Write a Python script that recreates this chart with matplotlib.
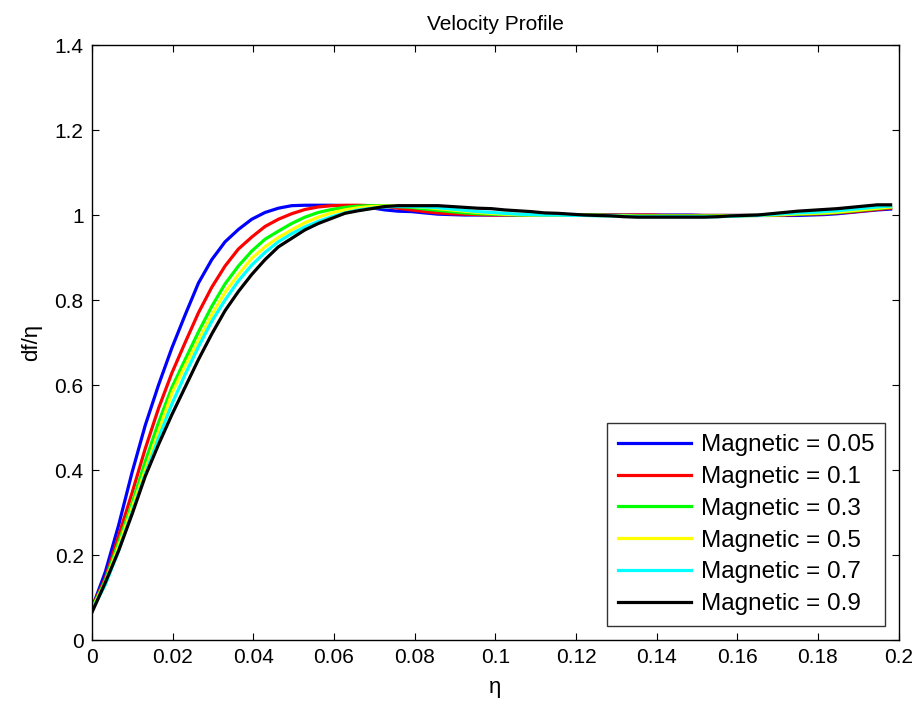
"""Velocity profile for several magnetic parameters, MATLAB look."""

import matplotlib

matplotlib.use("Agg")
import matplotlib.pyplot as plt  # noqa: E402
import numpy as np

plt.rcParams.update(
    {
        "font.family": ["Liberation Sans", "DejaVu Sans"],
        "font.size": 15,
        "axes.linewidth": 1.0,
        "xtick.direction": "in",
        "ytick.direction": "in",
        "xtick.top": True,
        "ytick.right": True,
        "xtick.major.size": 5,
        "ytick.major.size": 5,
        "xtick.major.width": 0.8,
        "ytick.major.width": 0.8,
    }
)

# eta grid, 61 samples up to 0.198
eta = np.linspace(0.0, 0.198, 61)

mag_labels = ["0.05", "0.1", "0.3", "0.5", "0.7", "0.9"]
mag_colors = ["#0000ff", "#ff0000", "#00ff00", "#ffff00", "#00ffff", "#000000"]

vel_005 = [
    0.075, 0.160, 0.270, 0.393, 0.505, 0.600, 0.687, 0.765, 0.840, 0.895,
    0.937, 0.966, 0.990, 1.006, 1.016, 1.022, 1.023, 1.023, 1.023, 1.022,
    1.021, 1.017, 1.012, 1.009, 1.008, 1.005, 1.002, 1.001, 1.000, 1.000,
    1.000, 1.000, 1.000, 1.000, 1.000, 1.000, 1.000, 1.000, 1.000, 1.000,
    1.000, 1.000, 1.000, 1.000, 1.000, 1.000, 0.999, 0.999, 0.999, 0.999,
    0.999, 0.999, 0.999, 0.999, 1.000, 1.001, 1.003, 1.006, 1.009, 1.012,
    1.014,
]
vel_01 = [
    0.077, 0.145, 0.245, 0.345, 0.450, 0.545, 0.628, 0.700, 0.770, 0.830,
    0.880, 0.920, 0.948, 0.973, 0.990, 1.003, 1.013, 1.019, 1.022, 1.023,
    1.023, 1.022, 1.020, 1.016, 1.012, 1.008, 1.005, 1.003, 1.002, 1.001,
    1.000, 1.000, 1.000, 1.000, 1.000, 1.000, 1.000, 1.000, 1.000, 1.000,
    1.000, 1.000, 1.000, 0.999, 0.999, 0.999, 0.999, 0.999, 0.999, 0.999,
    0.999, 0.999, 1.000, 1.001, 1.002, 1.003, 1.005, 1.007, 1.010, 1.013,
    1.016,
]
vel_03 = [
    0.074, 0.140, 0.230, 0.320, 0.420, 0.512, 0.594, 0.660, 0.725, 0.785,
    0.838, 0.880, 0.915, 0.943, 0.962, 0.980, 0.995, 1.006, 1.013, 1.018,
    1.021, 1.022, 1.022, 1.020, 1.018, 1.014, 1.011, 1.008, 1.005, 1.003,
    1.002, 1.001, 1.000, 1.000, 1.000, 1.000, 1.000, 1.000, 1.000, 0.999,
    0.999, 0.998, 0.998, 0.998, 0.998, 0.998, 0.998, 0.998, 0.998, 0.999,
    0.999, 1.000, 1.001, 1.002, 1.003, 1.004, 1.006, 1.009, 1.012, 1.015,
    1.018,
]
vel_05 = [
    0.072, 0.135, 0.220, 0.310, 0.400, 0.490, 0.580, 0.645, 0.705, 0.765,
    0.818, 0.860, 0.898, 0.925, 0.947, 0.965, 0.982, 0.995, 1.005, 1.012,
    1.017, 1.020, 1.021, 1.021, 1.020, 1.018, 1.015, 1.012, 1.009, 1.006,
    1.004, 1.002, 1.001, 1.000, 1.000, 1.000, 1.000, 0.999, 0.999, 0.998,
    0.998, 0.997, 0.997, 0.997, 0.997, 0.997, 0.997, 0.997, 0.998, 0.998,
    0.999, 1.000, 1.001, 1.003, 1.004, 1.005, 1.007, 1.010, 1.013, 1.016,
    1.019,
]
vel_07 = [
    0.070, 0.130, 0.210, 0.300, 0.390, 0.475, 0.555, 0.625, 0.690, 0.750,
    0.800, 0.845, 0.882, 0.912, 0.937, 0.956, 0.972, 0.985, 0.996, 1.005,
    1.012, 1.016, 1.019, 1.020, 1.020, 1.019, 1.017, 1.014, 1.011, 1.008,
    1.006, 1.004, 1.002, 1.001, 1.000, 1.000, 0.999, 0.999, 0.998, 0.998,
    0.997, 0.996, 0.996, 0.996, 0.996, 0.996, 0.996, 0.996, 0.997, 0.998,
    0.999, 1.001, 1.003, 1.005, 1.006, 1.008, 1.010, 1.013, 1.016, 1.019,
    1.021,
]
vel_09 = [
    0.065, 0.135, 0.210, 0.295, 0.385, 0.460, 0.530, 0.595, 0.660, 0.720,
    0.775, 0.820, 0.860, 0.895, 0.925, 0.945, 0.965, 0.980, 0.992, 1.004,
    1.010, 1.015, 1.020, 1.022, 1.022, 1.022, 1.022, 1.020, 1.018, 1.016,
    1.015, 1.012, 1.010, 1.008, 1.005, 1.004, 1.002, 1.000, 0.999, 0.998,
    0.996, 0.995, 0.995, 0.995, 0.995, 0.995, 0.995, 0.996, 0.998, 0.999,
    1.000, 1.003, 1.006, 1.009, 1.011, 1.013, 1.015, 1.018, 1.021, 1.024,
    1.024,
]

profiles = [vel_005, vel_01, vel_03, vel_05, vel_07, vel_09]

fig = plt.figure(figsize=(9.17, 7.09), dpi=100)
ax = fig.add_axes([0.1003, 0.0973, 0.8797, 0.8392])

for vals, lab, col in zip(profiles, mag_labels, mag_colors):
    ax.plot(eta, vals, color=col, linewidth=2.3, label=f"Magnetic = {lab}")

ax.set_xlim(0, 0.2)
ax.set_ylim(0, 1.4)
ax.set_xticks(np.arange(0, 0.2001, 0.02))
ax.set_xticklabels(["0", "0.02", "0.04", "0.06", "0.08", "0.1",
                    "0.12", "0.14", "0.16", "0.18", "0.2"])
ax.set_yticks(np.arange(0, 1.4001, 0.2))
ax.set_yticklabels(["0", "0.2", "0.4", "0.6", "0.8", "1", "1.2", "1.4"])
ax.tick_params(axis="both", pad=6)

ax.set_title("Velocity Profile", fontsize=15, pad=11)
ax.set_xlabel("η", fontsize=16, labelpad=7)
ax.set_ylabel("df/η", fontsize=16, labelpad=9)

leg = ax.legend(
    loc="lower right",
    bbox_to_anchor=(0.983, 0.0235),
    frameon=True,
    fancybox=False,
    edgecolor="black",
    handlelength=3.0,
    handletextpad=0.4,
    labelspacing=0.4,
    borderpad=0.45,
    borderaxespad=0.0,
    fontsize=17.5,
)
leg.get_frame().set_linewidth(1.0)

fig.savefig("out.png", dpi=100, facecolor="white")
